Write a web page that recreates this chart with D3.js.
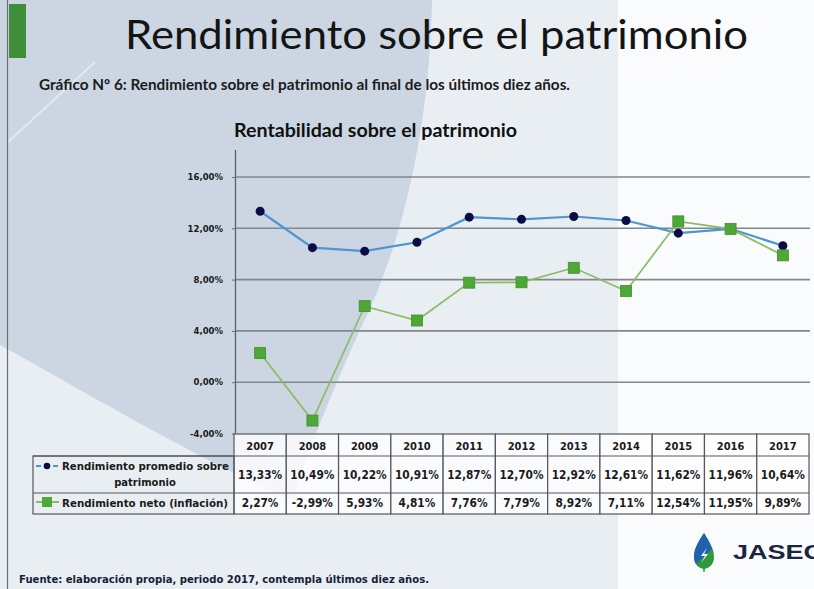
<!DOCTYPE html>
<html>
<head>
<meta charset="utf-8">
<script src="https://cdn.jsdelivr.net/npm/d3@7"></script>
<style>
  html, body { margin: 0; padding: 0; background: #fafbfc; }
  svg { display: block; }
</style>
</head>
<body>
<svg id="slide" width="814" height="589"></svg>
<script>
// Rentabilidad sobre el patrimonio, 2007-2017
const years = [2007, 2008, 2009, 2010, 2011, 2012, 2013, 2014, 2015, 2016, 2017];
const promedio = [13.33, 10.49, 10.22, 10.91, 12.87, 12.70, 12.92, 12.61, 11.62, 11.96, 10.64];
const neto = [2.27, -2.99, 5.93, 4.81, 7.76, 7.79, 8.92, 7.11, 12.54, 11.95, 9.89];
const yTicks = [-4, 0, 4, 8, 12, 16];

const svg = d3.select("#slide");
const pct = v => v.toFixed(2).replace(".", ",") + "%";

// squeeze a text element horizontally to a share of its natural width
function condense(sel, k) {
  sel.each(function () {
    const w = this.getComputedTextLength();
    this.setAttribute("textLength", w * k);
    this.setAttribute("lengthAdjust", "spacingAndGlyphs");
  });
}
function fitTo(sel, w) {
  sel.attr("textLength", w).attr("lengthAdjust", "spacingAndGlyphs");
}

// ---- slide background ----
const bg = svg.append("g");
bg.append("rect").attr("width", 814).attr("height", 589).attr("fill", "#fafbfc");
bg.append("rect").attr("x", 0).attr("y", 0).attr("width", 618).attr("height", 589).attr("fill", "#e9eef3");
bg.append("path")
  .attr("d", "M0,0 L432,0 C430,120 405,240 360,330 C335,385 312,440 292,500 C200,460 90,395 0,345 Z")
  .attr("fill", "#cbd6e2");
bg.append("path")
  .attr("d", "M8,142 L95,62")
  .attr("stroke", "#ffffff").attr("stroke-opacity", 0.45).attr("stroke-width", 2).attr("fill", "none");
// slide left border and accent bar
bg.append("line").attr("x1", 7.5).attr("x2", 7.5).attr("y1", 0).attr("y2", 589)
  .attr("stroke", "#6b6f74").attr("stroke-width", 1.2);
bg.append("rect").attr("x", 9).attr("y", 4).attr("width", 17).attr("height", 54).attr("fill", "#3f8f3a");

// ---- headings ----
const title = svg.append("text").attr("x", 125).attr("y", 49)
  .attr("font-family", "Lato, 'Open Sans', sans-serif").attr("font-size", 41)
  .attr("fill", "#141414").text("Rendimiento sobre el patrimonio");
fitTo(title, 623);

const sub = svg.append("text").attr("x", 39).attr("y", 90)
  .attr("font-family", "Lato, 'Open Sans', sans-serif").attr("font-size", 14.5)
  .attr("font-weight", 700).attr("fill", "#1c1c1c")
  .text("Gráfico Nº 6: Rendimiento sobre el patrimonio al final de los últimos diez años.");
fitTo(sub, 531);

const ctitle = svg.append("text").attr("x", 234).attr("y", 137)
  .attr("font-family", "Lato, 'Open Sans', sans-serif").attr("font-size", 18)
  .attr("font-weight", 700).attr("fill", "#111").text("Rentabilidad sobre el patrimonio");
fitTo(ctitle, 283);

// ---- scales ----
const x = d3.scaleBand().domain(years).range([234, 809]).paddingInner(0).paddingOuter(0);
const y = d3.scaleLinear().domain([-4, 16]).range([433.5, 177]);
const cx = d => x(d) + x.bandwidth() / 2;

// gridlines
svg.append("g").selectAll("line").data(yTicks.filter(t => t > -4)).join("line")
  .attr("x1", 235).attr("x2", 810)
  .attr("y1", d => y(d)).attr("y2", d => y(d))
  .attr("stroke", "#84868c").attr("stroke-width", 1.6);

// y axis
const yAxis = svg.append("g").attr("transform", "translate(235,0)")
  .call(d3.axisLeft(y).tickValues(yTicks).tickSize(3).tickPadding(9).tickFormat(pct));
yAxis.select(".domain").remove();
yAxis.selectAll(".tick line").attr("stroke", "#6d6f74");
yAxis.selectAll(".tick text")
  .attr("font-family", "'DejaVu Sans', Verdana, sans-serif").attr("font-size", 8.5)
  .attr("font-weight", 700).attr("fill", "#1a1a1a");
svg.append("line").attr("x1", 235.5).attr("x2", 235.5).attr("y1", 150).attr("y2", y(-4))
  .attr("stroke", "#5f6166").attr("stroke-width", 1.3);

// ---- series ----
const line = d3.line().x((d, i) => cx(years[i])).y(d => y(d));

svg.append("path").datum(promedio).attr("d", line)
  .attr("fill", "none").attr("stroke", "#4e96d2").attr("stroke-width", 2.2);
svg.append("g").selectAll("circle").data(promedio).join("circle")
  .attr("cx", (d, i) => cx(years[i])).attr("cy", d => y(d)).attr("r", 4.5)
  .attr("fill", "#0c0c45");

svg.append("path").datum(neto).attr("d", line)
  .attr("fill", "none").attr("stroke", "#88bd66").attr("stroke-width", 1.7);
svg.append("g").selectAll("rect").data(neto).join("rect")
  .attr("x", (d, i) => cx(years[i]) - 5.5).attr("y", d => y(d) - 5.5)
  .attr("width", 11).attr("height", 11)
  .attr("fill", "#4ea838").attr("stroke", "#3f8f2c").attr("stroke-width", 0.8);

// ---- data table ----
const rows = { top: 434, head: 456, r1: 493, r2: 514 };
const legendLeft = 33;
const tbl = svg.append("g");
const grid = "#55585c";

// year columns
tbl.append("g").selectAll("rect").data(years).join("rect")
  .attr("x", d => x(d)).attr("y", rows.top).attr("width", x.bandwidth()).attr("height", rows.r2 - rows.top)
  .attr("fill", "#fdfdfe").attr("fill-opacity", 0.85)
  .attr("stroke", grid).attr("stroke-width", 1.2);
// legend column
tbl.append("rect").attr("x", legendLeft).attr("y", rows.head).attr("width", 234 - legendLeft)
  .attr("height", rows.r2 - rows.head).attr("fill", "none").attr("stroke", grid).attr("stroke-width", 1.2);
tbl.append("line").attr("x1", legendLeft).attr("x2", 809).attr("y1", rows.head).attr("y2", rows.head)
  .attr("stroke", grid).attr("stroke-width", 1.2);
tbl.append("line").attr("x1", legendLeft).attr("x2", 809).attr("y1", rows.r1).attr("y2", rows.r1)
  .attr("stroke", grid).attr("stroke-width", 1.2);

const tableFont = "'DejaVu Sans', Verdana, sans-serif";
const yearText = tbl.append("g").selectAll("text").data(years).join("text")
  .attr("x", d => cx(d)).attr("y", 450).attr("text-anchor", "middle")
  .attr("font-family", tableFont).attr("font-size", 11).attr("font-weight", 700)
  .attr("fill", "#1a1a1a").text(d => d);
condense(yearText, 0.9);

const v1 = tbl.append("g").selectAll("text").data(promedio).join("text")
  .attr("x", (d, i) => cx(years[i])).attr("y", 479).attr("text-anchor", "middle")
  .attr("font-family", tableFont).attr("font-size", 11.5).attr("font-weight", 700)
  .attr("fill", "#1a1a1a").text(pct);
condense(v1, 0.92);

const v2 = tbl.append("g").selectAll("text").data(neto).join("text")
  .attr("x", (d, i) => cx(years[i])).attr("y", 507).attr("text-anchor", "middle")
  .attr("font-family", tableFont).attr("font-size", 11.5).attr("font-weight", 700)
  .attr("fill", "#1a1a1a").text(pct);
condense(v2, 0.92);

// legend keys
const k1y = 466, k2y = 502;
tbl.append("line").attr("x1", 36).attr("x2", 58).attr("y1", k1y).attr("y2", k1y)
  .attr("stroke", "#4e96d2").attr("stroke-width", 2).attr("stroke-dasharray", "5,4,4,4");
tbl.append("circle").attr("cx", 47).attr("cy", k1y).attr("r", 3.3).attr("fill", "#0c0c45");
tbl.append("line").attr("x1", 36).attr("x2", 59).attr("y1", k2y).attr("y2", k2y)
  .attr("stroke", "#88bd66").attr("stroke-width", 2);
tbl.append("rect").attr("x", 42).attr("y", k2y - 5).attr("width", 10).attr("height", 10)
  .attr("fill", "#4ea838");

const lg1 = tbl.append("text").attr("x", 62).attr("y", 470)
  .attr("font-family", tableFont).attr("font-size", 10.5).attr("font-weight", 700)
  .attr("fill", "#1a1a1a").text("Rendimiento promedio sobre");
fitTo(lg1, 167);
const lg1b = tbl.append("text").attr("x", 145).attr("y", 486).attr("text-anchor", "middle")
  .attr("font-family", tableFont).attr("font-size", 10.5).attr("font-weight", 700)
  .attr("fill", "#1a1a1a").text("patrimonio");
condense(lg1b, 0.95);
const lg2 = tbl.append("text").attr("x", 62).attr("y", 507)
  .attr("font-family", tableFont).attr("font-size", 10.5).attr("font-weight", 700)
  .attr("fill", "#1a1a1a").text("Rendimiento neto (inflación)");
fitTo(lg2, 166);

// ---- footer ----
const foot = svg.append("text").attr("x", 19).attr("y", 583)
  .attr("font-family", tableFont).attr("font-size", 10.5).attr("font-weight", 700)
  .attr("fill", "#16213a").text("Fuente: elaboración propia, periodo 2017, contempla últimos diez años.");
fitTo(foot, 410);

// ---- JASEC logo ----
const logo = svg.append("g");
logo.append("path")
  .attr("d", "M704,533 C699,541 694,548 694,557 C694,564 698,568 704,569 C710,568 714,564 714,557 C714,548 709,541 704,533 Z")
  .attr("fill", "#2f9a3c");
logo.append("path")
  .attr("d", "M704,533 C699,541 694,548 694,557 C694,560 695,562 696,564 L712,549 C710,544 707,538 704,533 Z")
  .attr("fill", "#1f62b0");
logo.append("path")
  .attr("d", "M707,548 L701,556 L705,556 L701,563 L708,554 L704,554 Z")
  .attr("fill", "#ffffff");
logo.append("line").attr("x1", 704).attr("x2", 704).attr("y1", 568).attr("y2", 572)
  .attr("stroke", "#2f9a3c").attr("stroke-width", 1.5);
const jasec = logo.append("text").attr("x", 733).attr("y", 559)
  .attr("font-family", "'Liberation Sans', Arial, sans-serif").attr("font-size", 20)
  .attr("font-weight", 700).attr("fill", "#1b2440").text("JASEC");
fitTo(jasec, 90);
</script>
</body>
</html>
